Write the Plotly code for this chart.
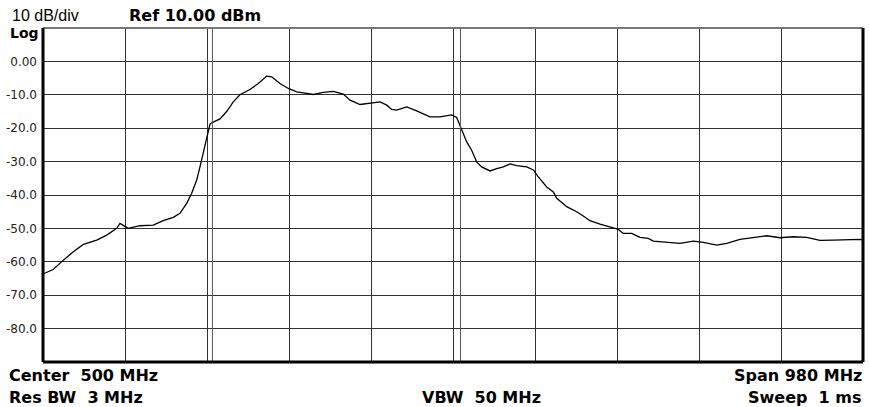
import plotly.graph_objects as go

# ---- data ----
freq_mhz = [11.2, 22.3, 34.3, 46.2, 58.2, 74.2, 86.1, 98.1, 102.0, 111.9,
            125.8, 141.8, 153.7, 165.7, 173.7, 181.7, 187.7, 193.7, 197.6, 201.6,
            205.6, 207.6, 209.6, 211.6, 221.5, 229.5, 237.4, 245.4, 257.4, 267.3,
            277.4, 283.3, 293.2, 303.2, 313.2, 325.2, 333.0, 345.0, 356.9, 368.9,
            376.9, 388.9, 400.8, 412.8, 420.8, 426.7, 432.7, 444.7, 456.6, 472.5,
            484.5, 498.4, 504.4, 508.4, 512.3, 516.4, 522.3, 528.3, 534.3, 544.2,
            552.2, 560.1, 568.1, 576.1, 588.1, 596.0, 602.0, 612.0, 619.9, 624.0,
            635.9, 647.8, 655.7, 663.7, 675.7, 687.6, 697.6, 703.5, 713.6, 723.5,
            733.4, 739.4, 755.4, 771.3, 787.2, 799.2, 815.2, 827.2, 843.0, 858.9,
            874.9, 890.8, 906.7, 922.7, 938.6, 954.5, 970.5, 986.4, 990.0]
level_dbm = [-63.5, -62.3, -59.5, -57.0, -54.8, -53.5, -52.0, -50.0, -48.5, -50.0,
             -49.2, -49.0, -47.7, -46.7, -45.5, -42.5, -39.5, -35.5, -31.6, -27.5,
             -22.6, -20.6, -18.8, -18.4, -17.2, -15.0, -12.1, -10.0, -8.4, -6.6,
             -4.4, -4.6, -6.6, -8.1, -9.1, -9.6, -9.9, -9.3, -9.0, -9.8,
             -11.6, -12.9, -12.4, -12.1, -13.1, -14.4, -14.6, -13.6, -14.8, -16.6,
             -16.6, -16.0, -16.8, -19.1, -21.6, -24.1, -26.6, -30.1, -31.6, -32.8,
             -32.1, -31.6, -30.7, -31.2, -31.6, -32.5, -34.6, -37.6, -39.1, -41.0,
             -43.5, -45.0, -46.3, -47.7, -48.7, -49.5, -50.3, -51.5, -51.5, -52.7,
             -53.0, -53.8, -54.2, -54.5, -53.8, -54.2, -55.0, -54.5, -53.3, -52.8,
             -52.2, -52.8, -52.5, -52.7, -53.6, -53.5, -53.3, -53.3, -53.5]

center_mhz = 500
span_mhz = 980
ref_dbm = 10.0
db_per_div = 10
n_div = 10
marker_lines_mhz = [212.5, 509.0]
y_tick_vals = [0, -10, -20, -30, -40, -50, -60, -70, -80]
y_tick_text = ["0.00", "-10.0", "-20.0", "-30.0", "-40.0", "-50.0", "-60.0", "-70.0", "-80.0"]

f_start = center_mhz - span_mhz / 2
f_stop = center_mhz + span_mhz / 2
y_bottom = ref_dbm - db_per_div * n_div

fig = go.Figure()
fig.add_trace(go.Scatter(x=freq_mhz, y=level_dbm, mode="lines",
                         line=dict(color="black", width=1.3), hoverinfo="skip",
                         showlegend=False))

grid_col = "#333333"
fig.update_xaxes(range=[f_start, f_stop], tick0=f_start, dtick=span_mhz / n_div,
                 showgrid=True, gridcolor=grid_col, gridwidth=1,
                 showticklabels=False, zeroline=False, showline=False, ticks="")
fig.update_yaxes(range=[y_bottom, ref_dbm], tickmode="array",
                 tickvals=y_tick_vals, ticktext=y_tick_text,
                 showgrid=True, gridcolor=grid_col, gridwidth=1,
                 zeroline=False, showline=False, ticks="",
                 ticklabelstandoff=5,
                 tickfont=dict(family="DejaVu Sans", size=12, color="#222"))

# extra vertical lines (channel edges)
for f in marker_lines_mhz:
    fig.add_shape(type="line", xref="x", yref="y domain", x0=f, x1=f, y0=0, y1=1,
                  line=dict(color="#555", width=1))

# frame
fig.add_shape(type="line", xref="x domain", yref="y domain", x0=0, x1=1, y0=1, y1=1,
              line=dict(color="#777", width=2))
for (x0, y0, x1, y1) in [(0, 0, 0, 1), (0, 0, 1, 0), (1, 0, 1, 1)]:
    fig.add_shape(type="line", xref="x domain", yref="y domain",
                  x0=x0, x1=x1, y0=y0, y1=y1, line=dict(color="black", width=3))

bold = dict(family="DejaVu Sans", size=16, color="black", weight="bold")
reg = dict(family="Liberation Sans", size=16, color="black")
ann = [
    dict(text="10 dB/div", x=10, y=16, xanchor="left", font=reg),
    dict(text="Ref 10.00 dBm", x=127, y=16, xanchor="left", font=bold),
    dict(text="Log", x=8, y=33, xanchor="left", font=dict(bold, size=14)),
    dict(text="Center  500 MHz", x=7, y=375, xanchor="left", font=bold),
    dict(text="Res BW  3 MHz", x=7, y=397, xanchor="left", font=bold),
    dict(text="VBW  50 MHz", x=481, y=397, xanchor="center", font=bold),
    dict(text="Span 980 MHz", x=864, y=375, xanchor="right", font=bold),
    dict(text="Sweep  1 ms", x=864, y=397, xanchor="right", font=bold),
]
W, H = 869, 407
for a in ann:
    fig.add_annotation(text=a["text"], xref="paper", yref="paper",
                       x=a["x"] / W, y=1 - a["y"] / H,
                       xanchor=a["xanchor"], yanchor="middle",
                       showarrow=False, font=a["font"])

# place plot area at pixel position 43..863 x 28..362
fig.update_layout(width=W, height=H, margin=dict(l=0, r=0, t=0, b=0),
                  paper_bgcolor="white", plot_bgcolor="white",
                  xaxis=dict(domain=[43 / W, 863 / W]),
                  yaxis=dict(domain=[1 - 362 / H, 1 - 28 / H]))

fig.write_html("out.html", config={"displayModeBar": False},
               post_script="document.body.style.margin='0';document.body.style.overflow='hidden';")
